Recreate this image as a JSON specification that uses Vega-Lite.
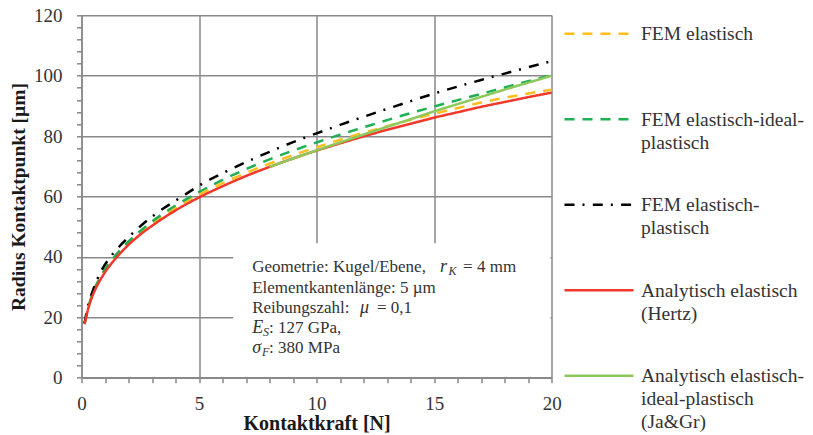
{
  "$schema": "https://vega.github.io/schema/vega-lite/v6.json",
  "autosize": {"type": "none"},
  "width": 470.2,
  "height": 362.4,
  "padding": {"left": 81.5, "top": 15.3, "right": 261.3, "bottom": 57.3},
  "background": "white",
  "config": {
    "view": {"stroke": null},
    "axis": {
      "domainColor": "#898989", "domainWidth": 1.5,
      "tickColor": "#898989", "tickWidth": 1.5, "tickSize": 5,
      "gridColor": "#898989", "gridWidth": 1.5,
      "labelFont": "Liberation Serif", "labelFontSize": 19, "labelColor": "#333333",
      "titleFont": "Liberation Serif", "titleFontSize": 19.5, "titleFontWeight": "bold", "titleColor": "#1a1a1a",
      "labelOverlap": false, "labelFlush": false
    },
    "text": {"font": "Liberation Serif", "color": "#333333"}
  },
  "data": {"values": [
    {"s": "FEM elastisch", "F": 0.13, "r": 17.8}, {"s": "FEM elastisch", "F": 0.3, "r": 23.4}, {"s": "FEM elastisch", "F": 0.5, "r": 28.2}, {"s": "FEM elastisch", "F": 0.75, "r": 32.3}, {"s": "FEM elastisch", "F": 1, "r": 35.5}, {"s": "FEM elastisch", "F": 1.5, "r": 40.6}, {"s": "FEM elastisch", "F": 2, "r": 44.6}, {"s": "FEM elastisch", "F": 2.5, "r": 48.0}, {"s": "FEM elastisch", "F": 3, "r": 51.0}, {"s": "FEM elastisch", "F": 4, "r": 56.2}, {"s": "FEM elastisch", "F": 5, "r": 60.6}, {"s": "FEM elastisch", "F": 6, "r": 64.4}, {"s": "FEM elastisch", "F": 7, "r": 67.8}, {"s": "FEM elastisch", "F": 8, "r": 70.9}, {"s": "FEM elastisch", "F": 9, "r": 73.7}, {"s": "FEM elastisch", "F": 10, "r": 76.3}, {"s": "FEM elastisch", "F": 11, "r": 78.8}, {"s": "FEM elastisch", "F": 12, "r": 81.1}, {"s": "FEM elastisch", "F": 13, "r": 83.3}, {"s": "FEM elastisch", "F": 14, "r": 85.4}, {"s": "FEM elastisch", "F": 15, "r": 87.4}, {"s": "FEM elastisch", "F": 16, "r": 89.3}, {"s": "FEM elastisch", "F": 17, "r": 91.1}, {"s": "FEM elastisch", "F": 18, "r": 92.7}, {"s": "FEM elastisch", "F": 19, "r": 94.1}, {"s": "FEM elastisch", "F": 20, "r": 95.4},
    {"s": "FEM elastisch-ideal-plastisch", "F": 0.13, "r": 18.0}, {"s": "FEM elastisch-ideal-plastisch", "F": 0.3, "r": 23.6}, {"s": "FEM elastisch-ideal-plastisch", "F": 0.5, "r": 28.5}, {"s": "FEM elastisch-ideal-plastisch", "F": 0.75, "r": 32.6}, {"s": "FEM elastisch-ideal-plastisch", "F": 1, "r": 35.9}, {"s": "FEM elastisch-ideal-plastisch", "F": 1.5, "r": 41.0}, {"s": "FEM elastisch-ideal-plastisch", "F": 2, "r": 45.1}, {"s": "FEM elastisch-ideal-plastisch", "F": 2.5, "r": 48.6}, {"s": "FEM elastisch-ideal-plastisch", "F": 3, "r": 51.7}, {"s": "FEM elastisch-ideal-plastisch", "F": 4, "r": 57.0}, {"s": "FEM elastisch-ideal-plastisch", "F": 5, "r": 61.5}, {"s": "FEM elastisch-ideal-plastisch", "F": 6, "r": 65.5}, {"s": "FEM elastisch-ideal-plastisch", "F": 7, "r": 69.1}, {"s": "FEM elastisch-ideal-plastisch", "F": 8, "r": 72.3}, {"s": "FEM elastisch-ideal-plastisch", "F": 9, "r": 75.2}, {"s": "FEM elastisch-ideal-plastisch", "F": 10, "r": 77.9}, {"s": "FEM elastisch-ideal-plastisch", "F": 11, "r": 80.5}, {"s": "FEM elastisch-ideal-plastisch", "F": 12, "r": 82.9}, {"s": "FEM elastisch-ideal-plastisch", "F": 13, "r": 85.3}, {"s": "FEM elastisch-ideal-plastisch", "F": 14, "r": 87.6}, {"s": "FEM elastisch-ideal-plastisch", "F": 15, "r": 89.8}, {"s": "FEM elastisch-ideal-plastisch", "F": 16, "r": 91.9}, {"s": "FEM elastisch-ideal-plastisch", "F": 17, "r": 94.0}, {"s": "FEM elastisch-ideal-plastisch", "F": 18, "r": 96.1}, {"s": "FEM elastisch-ideal-plastisch", "F": 19, "r": 98.2}, {"s": "FEM elastisch-ideal-plastisch", "F": 20, "r": 100.2},
    {"s": "FEM elastisch-plastisch", "F": 0.13, "r": 18.0}, {"s": "FEM elastisch-plastisch", "F": 0.3, "r": 24.5}, {"s": "FEM elastisch-plastisch", "F": 0.5, "r": 29.2}, {"s": "FEM elastisch-plastisch", "F": 0.85, "r": 35.5}, {"s": "FEM elastisch-plastisch", "F": 1.25, "r": 40.2}, {"s": "FEM elastisch-plastisch", "F": 1.7, "r": 44.2}, {"s": "FEM elastisch-plastisch", "F": 2.1, "r": 47.3}, {"s": "FEM elastisch-plastisch", "F": 2.6, "r": 50.8}, {"s": "FEM elastisch-plastisch", "F": 3.2, "r": 54.5}, {"s": "FEM elastisch-plastisch", "F": 4, "r": 58.6}, {"s": "FEM elastisch-plastisch", "F": 4.6, "r": 61.6}, {"s": "FEM elastisch-plastisch", "F": 5, "r": 63.6}, {"s": "FEM elastisch-plastisch", "F": 6, "r": 67.7}, {"s": "FEM elastisch-plastisch", "F": 7, "r": 71.4}, {"s": "FEM elastisch-plastisch", "F": 8, "r": 74.8}, {"s": "FEM elastisch-plastisch", "F": 9, "r": 78.0}, {"s": "FEM elastisch-plastisch", "F": 10, "r": 80.9}, {"s": "FEM elastisch-plastisch", "F": 11, "r": 83.7}, {"s": "FEM elastisch-plastisch", "F": 12, "r": 86.4}, {"s": "FEM elastisch-plastisch", "F": 13, "r": 89.0}, {"s": "FEM elastisch-plastisch", "F": 14, "r": 91.6}, {"s": "FEM elastisch-plastisch", "F": 15, "r": 94.1}, {"s": "FEM elastisch-plastisch", "F": 16, "r": 96.4}, {"s": "FEM elastisch-plastisch", "F": 17, "r": 98.6}, {"s": "FEM elastisch-plastisch", "F": 18, "r": 100.7}, {"s": "FEM elastisch-plastisch", "F": 19, "r": 102.8}, {"s": "FEM elastisch-plastisch", "F": 20, "r": 104.8},
    {"s": "Analytisch elastisch (Hertz)", "F": 0.13, "r": 17.7}, {"s": "Analytisch elastisch (Hertz)", "F": 0.3, "r": 23.3}, {"s": "Analytisch elastisch (Hertz)", "F": 0.5, "r": 27.7}, {"s": "Analytisch elastisch (Hertz)", "F": 0.75, "r": 31.7}, {"s": "Analytisch elastisch (Hertz)", "F": 1, "r": 34.9}, {"s": "Analytisch elastisch (Hertz)", "F": 1.5, "r": 39.9}, {"s": "Analytisch elastisch (Hertz)", "F": 2, "r": 44.0}, {"s": "Analytisch elastisch (Hertz)", "F": 2.5, "r": 47.4}, {"s": "Analytisch elastisch (Hertz)", "F": 3, "r": 50.3}, {"s": "Analytisch elastisch (Hertz)", "F": 4, "r": 55.4}, {"s": "Analytisch elastisch (Hertz)", "F": 5, "r": 59.7}, {"s": "Analytisch elastisch (Hertz)", "F": 6, "r": 63.4}, {"s": "Analytisch elastisch (Hertz)", "F": 7, "r": 66.8}, {"s": "Analytisch elastisch (Hertz)", "F": 8, "r": 69.8}, {"s": "Analytisch elastisch (Hertz)", "F": 9, "r": 72.6}, {"s": "Analytisch elastisch (Hertz)", "F": 10, "r": 75.2}, {"s": "Analytisch elastisch (Hertz)", "F": 11, "r": 77.6}, {"s": "Analytisch elastisch (Hertz)", "F": 12, "r": 79.9}, {"s": "Analytisch elastisch (Hertz)", "F": 13, "r": 82.1}, {"s": "Analytisch elastisch (Hertz)", "F": 14, "r": 84.1}, {"s": "Analytisch elastisch (Hertz)", "F": 15, "r": 86.1}, {"s": "Analytisch elastisch (Hertz)", "F": 16, "r": 87.9}, {"s": "Analytisch elastisch (Hertz)", "F": 17, "r": 89.7}, {"s": "Analytisch elastisch (Hertz)", "F": 18, "r": 91.3}, {"s": "Analytisch elastisch (Hertz)", "F": 19, "r": 92.9}, {"s": "Analytisch elastisch (Hertz)", "F": 20, "r": 94.4},
    {"s": "Analytisch elastisch-ideal-plastisch (Ja&Gr)", "F": 8, "r": 69.8}, {"s": "Analytisch elastisch-ideal-plastisch (Ja&Gr)", "F": 9, "r": 72.6}, {"s": "Analytisch elastisch-ideal-plastisch (Ja&Gr)", "F": 10, "r": 75.3}, {"s": "Analytisch elastisch-ideal-plastisch (Ja&Gr)", "F": 11, "r": 77.9}, {"s": "Analytisch elastisch-ideal-plastisch (Ja&Gr)", "F": 12, "r": 80.5}, {"s": "Analytisch elastisch-ideal-plastisch (Ja&Gr)", "F": 13, "r": 83.1}, {"s": "Analytisch elastisch-ideal-plastisch (Ja&Gr)", "F": 14, "r": 85.6}, {"s": "Analytisch elastisch-ideal-plastisch (Ja&Gr)", "F": 15, "r": 88.2}, {"s": "Analytisch elastisch-ideal-plastisch (Ja&Gr)", "F": 16, "r": 90.6}, {"s": "Analytisch elastisch-ideal-plastisch (Ja&Gr)", "F": 17, "r": 93.0}, {"s": "Analytisch elastisch-ideal-plastisch (Ja&Gr)", "F": 18, "r": 95.4}, {"s": "Analytisch elastisch-ideal-plastisch (Ja&Gr)", "F": 19, "r": 97.7}, {"s": "Analytisch elastisch-ideal-plastisch (Ja&Gr)", "F": 20, "r": 100.0}
  ]},
  "resolve": {"axis": {"x": "independent", "y": "independent"}},
  "layer": [
    {
      "layer": [
        {
          "mark": {"type": "line", "strokeWidth": 2.5, "interpolate": "monotone"},
          "encoding": {
            "x": {"field": "F", "type": "quantitative",
              "scale": {"domain": [0, 20], "nice": false},
              "axis": {"orient": "bottom", "title": "Kontaktkraft [N]", "titleFontSize": 20, "titlePadding": 0,
                "values": [0, 5, 10, 15, 20], "labelPadding": 11.5, "labelOverlap": false, "grid": true}},
            "y": {"field": "r", "type": "quantitative",
              "scale": {"domain": [0, 120], "nice": false},
              "axis": {"orient": "left", "title": "Radius Kontaktpunkt [µm]", "titlePadding": 5,
                "values": [0, 20, 40, 60, 80, 100, 120], "labelPadding": 14.5, "labelOverlap": false, "grid": true}},
            "color": {"field": "s", "type": "nominal",
              "scale": {"domain": ["FEM elastisch", "FEM elastisch-ideal-plastisch", "FEM elastisch-plastisch", "Analytisch elastisch (Hertz)", "Analytisch elastisch-ideal-plastisch (Ja&Gr)"],
                "range": ["#FFBE1E", "#1FAF55", "#000000", "#F0382B", "#8CC85A"]},
              "legend": {"title": null, "orient": "none", "legendX": 481.5, "legendY": -17.5, "padding": 0,
                "symbolType": "stroke", "symbolSize": 4761, "symbolStrokeWidth": 2.5,
                "labelFont": "Liberation Serif", "labelFontSize": 19.5, "labelColor": "#333333", "labelLimit": 300, "labelOffset": 6,
                "labelBaseline": "alphabetic", "gridAlign": "each", "rowPadding": 16.5,
                "labelExpr": "datum.label === 'FEM elastisch' ? ['FEM elastisch', ' '] : datum.label === 'FEM elastisch-ideal-plastisch' ? ['FEM elastisch-ideal-', 'plastisch'] : datum.label === 'FEM elastisch-plastisch' ? ['FEM elastisch-', 'plastisch'] : datum.label === 'Analytisch elastisch (Hertz)' ? ['Analytisch elastisch', '(Hertz)'] : datum.label === 'Analytisch elastisch-ideal-plastisch (Ja&Gr)' ? ['Analytisch elastisch-', 'ideal-plastisch', '(Ja&Gr)'] : datum.label",
                "encode": {"labels": {"update": {"lineHeight": {"value": 23}, "dy": {"value": 6.5}}}}}},
            "strokeDash": {"field": "s", "type": "nominal",
              "scale": {"domain": ["FEM elastisch", "FEM elastisch-ideal-plastisch", "FEM elastisch-plastisch", "Analytisch elastisch (Hertz)", "Analytisch elastisch-ideal-plastisch (Ja&Gr)"],
                "range": [[10, 8], [10, 8], [10, 8, 2, 8.3], [1, 0], [1, 0]]},
              "legend": {"title": null, "orient": "none", "legendX": 481.5, "legendY": -17.5, "padding": 0,
                "symbolType": "stroke", "symbolSize": 4761, "symbolStrokeWidth": 2.5,
                "labelFont": "Liberation Serif", "labelFontSize": 19.5, "labelColor": "#333333", "labelLimit": 300, "labelOffset": 6,
                "labelBaseline": "alphabetic", "gridAlign": "each", "rowPadding": 16.5,
                "labelExpr": "datum.label === 'FEM elastisch' ? ['FEM elastisch', ' '] : datum.label === 'FEM elastisch-ideal-plastisch' ? ['FEM elastisch-ideal-', 'plastisch'] : datum.label === 'FEM elastisch-plastisch' ? ['FEM elastisch-', 'plastisch'] : datum.label === 'Analytisch elastisch (Hertz)' ? ['Analytisch elastisch', '(Hertz)'] : datum.label === 'Analytisch elastisch-ideal-plastisch (Ja&Gr)' ? ['Analytisch elastisch-', 'ideal-plastisch', '(Ja&Gr)'] : datum.label",
                "encode": {"labels": {"update": {"lineHeight": {"value": 23}, "dy": {"value": 6.5}}}}}}
          }
        },
        {
          "data": {"values": [{}]},
          "layer": [
            {"mark": {"type": "rect", "fill": "white", "stroke": null},
             "encoding": {"x": {"datum": 6.45, "type": "quantitative"}, "x2": {"datum": 19.95}, "y": {"datum": 0.25, "type": "quantitative"}, "y2": {"datum": 44.5}}},
            {"mark": {"type": "text", "text": "Geometrie: Kugel/Ebene,", "align": "left", "baseline": "middle", "fontSize": 17},
             "encoding": {"x": {"datum": 7.26, "type": "quantitative"}, "y": {"datum": 36.6, "type": "quantitative"}}},
            {"mark": {"type": "text", "text": "r", "align": "left", "baseline": "middle", "fontSize": 18, "fontStyle": "italic"},
             "encoding": {"x": {"datum": 15.25, "type": "quantitative"}, "y": {"datum": 36.6, "type": "quantitative"}}},
            {"mark": {"type": "text", "text": "K", "align": "left", "baseline": "middle", "fontSize": 12, "fontStyle": "italic"},
             "encoding": {"x": {"datum": 15.61, "type": "quantitative"}, "y": {"datum": 35.3, "type": "quantitative"}}},
            {"mark": {"type": "text", "text": "= 4 mm", "align": "left", "baseline": "middle", "fontSize": 17},
             "encoding": {"x": {"datum": 16.23, "type": "quantitative"}, "y": {"datum": 36.6, "type": "quantitative"}}},
            {"mark": {"type": "text", "text": "Elementkantenlänge: 5 µm", "align": "left", "baseline": "middle", "fontSize": 17},
             "encoding": {"x": {"datum": 7.26, "type": "quantitative"}, "y": {"datum": 29.8, "type": "quantitative"}}},
            {"mark": {"type": "text", "text": "Reibungszahl:", "align": "left", "baseline": "middle", "fontSize": 17},
             "encoding": {"x": {"datum": 7.26, "type": "quantitative"}, "y": {"datum": 23.1, "type": "quantitative"}}},
            {"mark": {"type": "text", "text": "μ", "align": "left", "baseline": "middle", "fontSize": 18, "fontStyle": "italic"},
             "encoding": {"x": {"datum": 11.85, "type": "quantitative"}, "y": {"datum": 23.1, "type": "quantitative"}}},
            {"mark": {"type": "text", "text": "= 0,1", "align": "left", "baseline": "middle", "fontSize": 17},
             "encoding": {"x": {"datum": 12.57, "type": "quantitative"}, "y": {"datum": 23.1, "type": "quantitative"}}},
            {"mark": {"type": "text", "text": "E", "align": "left", "baseline": "middle", "fontSize": 18, "fontStyle": "italic"},
             "encoding": {"x": {"datum": 7.26, "type": "quantitative"}, "y": {"datum": 16.5, "type": "quantitative"}}},
            {"mark": {"type": "text", "text": "S", "align": "left", "baseline": "middle", "fontSize": 12, "fontStyle": "italic"},
             "encoding": {"x": {"datum": 7.72, "type": "quantitative"}, "y": {"datum": 15.2, "type": "quantitative"}}},
            {"mark": {"type": "text", "text": ": 127 GPa,", "align": "left", "baseline": "middle", "fontSize": 17},
             "encoding": {"x": {"datum": 7.98, "type": "quantitative"}, "y": {"datum": 16.5, "type": "quantitative"}}},
            {"mark": {"type": "text", "text": "σ", "align": "left", "baseline": "middle", "fontSize": 18, "fontStyle": "italic"},
             "encoding": {"x": {"datum": 7.26, "type": "quantitative"}, "y": {"datum": 9.9, "type": "quantitative"}}},
            {"mark": {"type": "text", "text": "F", "align": "left", "baseline": "middle", "fontSize": 12, "fontStyle": "italic"},
             "encoding": {"x": {"datum": 7.68, "type": "quantitative"}, "y": {"datum": 8.6, "type": "quantitative"}}},
            {"mark": {"type": "text", "text": ": 380 MPa", "align": "left", "baseline": "middle", "fontSize": 17},
             "encoding": {"x": {"datum": 7.98, "type": "quantitative"}, "y": {"datum": 9.9, "type": "quantitative"}}}
          ]
        }
      ]
    },
    {
      "mark": {"type": "point", "opacity": 0},
      "encoding": {
        "x": {"field": "F", "type": "quantitative",
          "axis": {"orient": "bottom", "title": null, "labels": false, "grid": false, "domain": false,
            "values": [1, 2, 3, 4, 6, 7, 8, 9, 11, 12, 13, 14, 16, 17, 18, 19]}},
        "y": {"field": "r", "type": "quantitative",
          "axis": {"orient": "left", "title": null, "labels": false, "grid": false, "domain": false,
            "values": [4, 8, 12, 16, 24, 28, 32, 36, 44, 48, 52, 56, 64, 68, 72, 76, 84, 88, 92, 96, 104, 108, 112, 116]}}
      }
    }
  ]
}
